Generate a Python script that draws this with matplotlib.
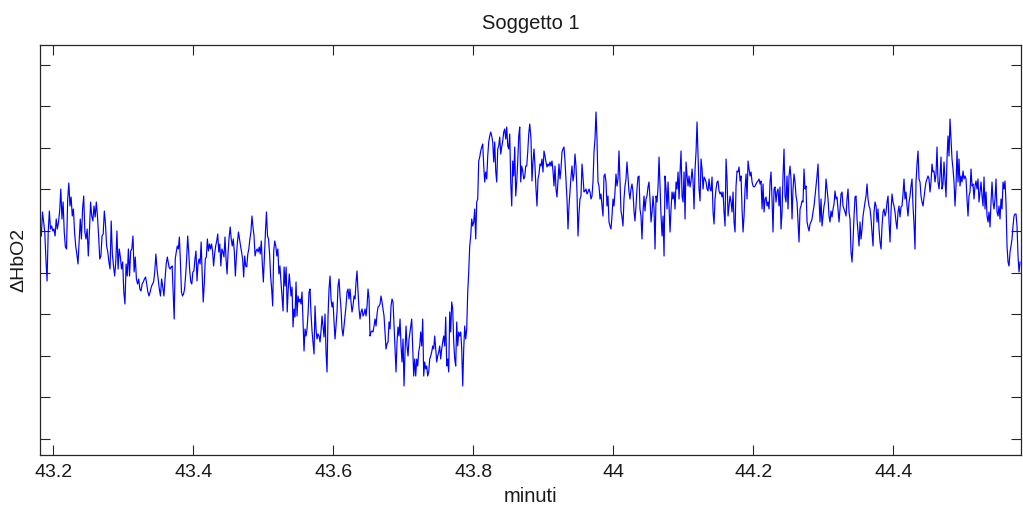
import numpy as np
import matplotlib
matplotlib.use("Agg")
import matplotlib.pyplot as plt

plt.rcParams['font.family'] = ['Liberation Sans', 'DejaVu Sans']

# Segments of the trace, each with its start/end time (minutes)
seg_times = [
    (43.1829, 43.3629), (43.3653, 43.5371), (43.5396, 43.7096), (43.7120, 43.8806),
    (43.8824, 44.0524), (44.0539, 44.2239), (44.2253, 44.3953), (44.3967, 44.5810),
]

# ΔHbO2 in arbitrary units (tick spacing = 41.6 a.u.)
seg1 = [203,227,217,207,180,158,207,228,210,213,208,210,203,220,210,217,228,250,220,237,207,192,190,240,256,
        233,242,223,230,207,193,185,175,198,220,200,230,243,207,200,210,183,208,237,223,218,233,222,237,223,
        203,180,183,203,205,228,215,193,187,177,170,218,185,173,163,177,208,170,190,182,170,177,147,135,175,
        163,190,163,188,190,203,167,182,160,155,160,150,148,155,157,160,162,155,147,143,147,152,155,157,167,
        185,170,160,150,143,160,152,143,160,175,182]
seg2 = [172,170,172,173,147,120,180,187,193,190,202,177,147,143,145,150,163,180,203,187,168,157,155,167,168,
        180,188,158,175,180,175,197,165,137,155,180,182,200,188,195,190,195,188,173,185,193,198,205,187,195,
        173,190,187,182,202,180,165,187,202,212,200,193,200,187,163,183,197,207,200,193,187,180,162,183,173,
        172,185,190,200,207,223,212,203,183,188,190,187,192,185,198,175,157,182,207,227,203,200,185,163,150,
        133,188,198,193,183,190,165,173,157,143,128,172,153,172,127,150,165]
seg3 = [143,152,112,130,122,157,123,143,137,140,135,147,117,88,110,103,110,125,147,150,125,108,97,85,133,
        110,100,105,103,97,108,123,112,102,125,87,67,123,150,163,140,132,137,117,100,113,127,153,160,143,
        130,110,103,113,123,133,147,150,140,150,137,127,133,143,140,157,168,147,130,120,127,130,123,125,130,
        123,133,150,140,103,107,108,107,113,120,113,125,132,133,135,143,137,130,123,107,90,95,97,117,110,
        133,140,137,113,87,67,97,112,103,120,93,77,100,53,87,113,93,83,100,107]
seg4 = [120,93,63,80,63,80,73,87,93,107,93,120,63,77,70,73,63,67,80,83,87,93,90,103,90,77,83,87,93,80,
        90,97,103,93,122,73,80,67,127,107,137,130,97,80,73,117,93,107,103,107,90,53,90,113,100,110,147,167,
        193,203,220,213,217,230,200,237,240,278,282,288,292,295,273,257,267,260,283,297,303,307,303,297,277,
        297,268,257,290,293,302,285,292,298,307,310,300,312,293,290,305,257,233,278,263,292,243,257,277,303,
        312,257,273,268,260,262,273,273,287,305,315]
seg5 = [300,258,277,290,273,250,233,260,265,275,273,280,267,288,283,277,272,275,273,277,273,278,268,253,273,
        250,242,258,275,260,270,287,290,292,278,258,240,210,233,247,262,273,258,265,285,273,247,203,225,240,
        243,275,262,247,248,250,245,247,250,247,240,243,257,287,300,327,300,257,253,240,245,233,223,263,265,
        257,233,243,217,213,210,223,240,233,247,265,253,260,288,258,228,222,213,240,253,260,277,262,247,240,
        250,255,247,228,218,233,250,262,263,230,223,200,227,243,228,240,243,252,257,240]
seg6 = [217,227,243,230,190,243,237,252,282,253,223,203,223,183,263,250,230,257,233,207,230,247,240,247,230,
        257,250,267,240,267,288,243,237,267,220,277,263,253,263,252,258,270,258,230,270,287,317,283,250,238,
        280,270,250,262,260,257,250,248,260,250,248,262,227,215,240,250,257,258,248,245,247,242,247,227,213,
        280,260,223,233,243,237,227,247,217,207,253,268,267,272,258,263,230,207,223,250,265,240,278,270,263,
        267,257,253,252,253,255,257,258,260,255,258,230,255,227,240,242,233,237,230,257]
seg7 = [267,240,207,250,252,237,247,250,233,252,210,227,263,290,243,237,263,230,263,273,260,220,250,265,257,
        243,237,217,197,230,233,238,237,270,250,253,217,212,208,215,217,220,227,233,243,253,263,275,240,217,
        240,213,223,233,238,260,250,240,223,217,228,222,230,235,248,240,242,230,217,230,245,247,233,230,227,
        223,240,250,227,220,187,177,197,223,242,243,220,207,193,217,200,210,223,230,237,243,255,240,233,230,
        220,207,193,227,237,233,217,230,210,197,190,213,227,230,223,227,237,243,217,197]
seg8 = [227,245,237,233,227,217,210,227,233,222,232,233,245,260,240,247,233,223,237,243,253,260,233,215,190,
        257,275,288,260,257,243,237,233,242,250,257,260,263,260,247,257,275,267,268,257,265,292,257,250,263,
        282,250,255,277,260,242,280,303,283,320,300,280,270,257,233,253,288,257,280,253,263,257,268,260,263,
        260,240,223,243,247,270,253,255,240,253,258,250,260,237,247,257,243,233,262,230,247,223,217,227,212,
        237,257,237,230,240,260,227,223,233,220,240,230,257,250,258,235,193,177,173,187,193,200,213,223,225,
        225,213,183,167,177]
segments = [seg1, seg2, seg3, seg4, seg5, seg6, seg7, seg8]

x_ticks = [43.2, 43.4, 43.6, 43.8, 44.0, 44.2, 44.4]
x_tick_labels = ["43.2", "43.4", "43.6", "43.8", "44", "44.2", "44.4"]
y_tick_step = 41.6
n_y_ticks = 10

minutes = np.concatenate([np.linspace(a, b, len(s)) for (a, b), s in zip(seg_times, segments)])
hbo2 = np.concatenate([np.asarray(s, float) for s in segments])

fig = plt.figure(figsize=(10.23, 5.10), dpi=100)
ax = fig.add_axes([40/1023, 1 - 455.7/510, 981/1023, 410.2/510])
ax.plot(minutes, hbo2, color=(0, 0, 1), lw=0.85)

ax.set_xlim(43.181, 44.5824)
ax.set_ylim(-15.7, 394.5)
ax.set_xticks(x_ticks)
ax.set_xticklabels(x_tick_labels)
ax.set_yticks([i * y_tick_step for i in range(n_y_ticks)])
ax.set_yticklabels([])
ax.tick_params(direction='in', top=True, right=True, length=7, width=0.8,
               color='#262626', labelsize=14, pad=6, labelcolor='#1a1a1a')
for sp in ax.spines.values():
    sp.set_color('#262626')
    sp.set_linewidth(0.9)

ax.set_title("Soggetto 1", fontsize=14.5, pad=12, color='#1a1a1a')
ax.set_xlabel("minuti", fontsize=14.5, color='#1a1a1a')
ax.xaxis.set_label_coords(0.5, -0.0763)
ax.set_ylabel("ΔHbO2", fontsize=14, color='#1a1a1a')
ax.yaxis.set_label_coords(-0.0133, 0.477)

fig.savefig("out.png", dpi=100)
